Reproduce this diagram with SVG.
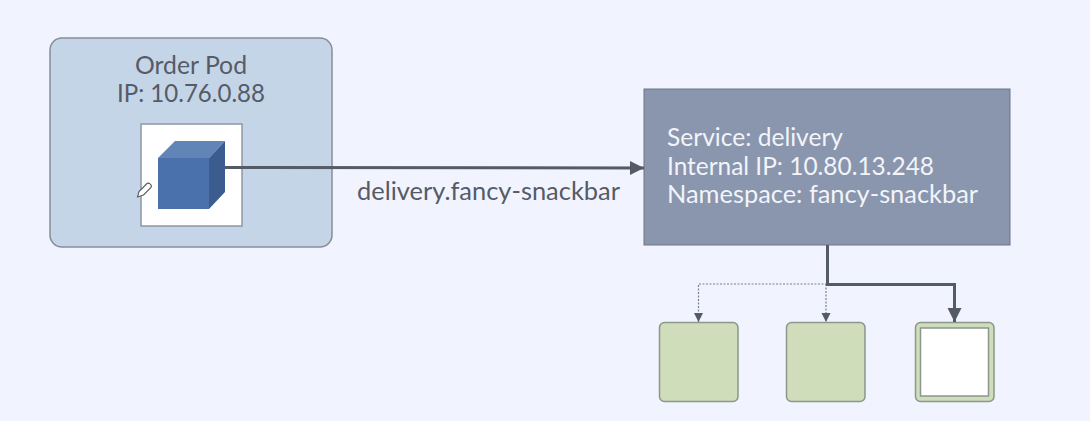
<svg xmlns="http://www.w3.org/2000/svg" width="1090" height="421" viewBox="0 0 1090 421">
<style>
text{font-family:"Lato","Noto Sans",sans-serif;font-size:25px}
.dark{fill:#555b67}
.light{fill:#f2f4fa}
.pod{fill:#cfddbb;stroke:#8b968c;stroke-width:1.5}
.thick{fill:none;stroke:#545a66;stroke-width:3}
.thin{fill:none;stroke:#7a7f8c;stroke-width:1.2;stroke-dasharray:2 1.5}
</style>
<defs>
<marker id="a" markerUnits="userSpaceOnUse" markerWidth="16" markerHeight="16" refX="14" refY="8" orient="auto"><path d="M0 1L14 8L0 15Z" fill="#545a66"/></marker>
<marker id="b" markerUnits="userSpaceOnUse" markerWidth="11" markerHeight="11" refX="9" refY="5" orient="auto"><path d="M0 0.5L9 5L0 9.5Z" fill="#545a66"/></marker>
</defs>
<rect width="1090" height="421" fill="#f1f4fe"/>
<g id="order-pod">
<rect x="50" y="38" width="282" height="209" rx="12" fill="#c5d5e8" stroke="#858d99" stroke-width="1.5"/>
<text class="dark" x="135" y="74" textLength="112" lengthAdjust="spacingAndGlyphs">Order Pod</text>
<text class="dark" x="117" y="102" textLength="148" lengthAdjust="spacingAndGlyphs">IP: 10.76.0.88</text>
<rect x="141" y="124" width="101" height="102" fill="#fff" stroke="#8f96a3" stroke-width="1.5"/>
<path d="M158 158H209V209H158Z" fill="#4a71ab"/>
<path d="M158 158L175 141H225L209 158Z" fill="#6285b8"/>
<path d="M209 158L225 141V192L209 209Z" fill="#3a5c8f"/>
<path d="M137.5 197L139 191.5L146.5 184C148.5 182 152.5 184.5 151 187.5L143.5 195Z" fill="#fff" stroke="#55595e" stroke-width="1.1"/>
</g>
<g id="service">
<rect x="644" y="89" width="366" height="156" fill="#8996ad" stroke="#6d7585" stroke-width="1"/>
<text class="light" x="667" y="146" textLength="176" lengthAdjust="spacingAndGlyphs">Service: delivery</text>
<text class="light" x="667" y="175" textLength="267" lengthAdjust="spacingAndGlyphs">Internal IP: 10.80.13.248</text>
<text class="light" x="667" y="203" textLength="311" lengthAdjust="spacingAndGlyphs">Namespace: fancy-snackbar</text>
</g>
<g id="pod-1"><rect class="pod" x="659.5" y="322.5" width="78.5" height="79" rx="5"/></g>
<g id="pod-2"><rect class="pod" x="786.5" y="322.5" width="78.5" height="79" rx="5"/></g>
<g id="pod-3"><rect class="pod" x="915.5" y="322.5" width="78.5" height="79" rx="5"/><rect x="920.5" y="328" width="68" height="68" fill="#fff" stroke="#8b968c" stroke-width="1.5"/></g>
<g id="connectors">
<path class="thick" d="M225 167.5L644 168" marker-end="url(#a)"/>
<path class="thin" d="M827 284H698.5V322" marker-end="url(#b)"/>
<path class="thin" d="M826 284V322" marker-end="url(#b)"/>
<path class="thick" d="M827.5 245V284.5H954.5V322" marker-end="url(#a)"/>
</g>
<text class="dark" x="357" y="200" textLength="263" lengthAdjust="spacingAndGlyphs">delivery.fancy-snackbar</text>
</svg>
